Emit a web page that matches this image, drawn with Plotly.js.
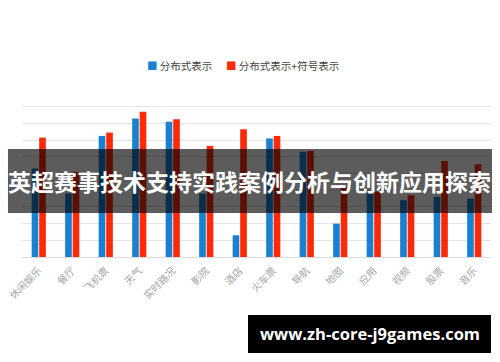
<!DOCTYPE html>
<html>
<head>
<meta charset="utf-8">
<script src="https://cdn.plot.ly/plotly-3.0.1.min.js"></script>
<style>html,body{margin:0;padding:0;background:#fff;}#chart{width:500px;height:362px;}</style>
</head>
<body>
<div id="chart"></div>
<script>
const categories = ["休闲娱乐","餐厅","飞机票","天气","实时路况","影院","酒店","火车票","导航","地图","应用","视频","股票","音乐"];
const distributed = [5.3, 3.8, 7.25, 8.3, 8.1, 3.8, 1.3, 7.1, 6.3, 2.0, 3.8, 3.4, 3.6, 3.5];
const distributedSymbolic = [7.15, 5.1, 7.45, 8.7, 8.25, 6.65, 7.65, 7.25, 6.35, 4.2, 3.9, 3.7, 5.75, 5.55];
const seriesNames = ["分布式表示", "分布式表示+符号表示"];
const seriesColors = ["#1b80cf", "#fb2a08"];
const bannerText = "英超赛事技术支持实践案例分析与创新应用探索";
const watermarkText = "www.zh-core-j9games.com";

const font = "'Noto Sans CJK SC', 'Noto Sans', sans-serif";
const traces = seriesNames.map((n, i) => ({
  type:"bar", name:n, x:categories, y:[distributed, distributedSymbolic][i], marker:{color:seriesColors[i]}
}));
const legendAnn = [
  {x:0.262, text:"<span style='color:" + seriesColors[0] + "'>■</span> " + seriesNames[0]},
  {x:0.431, text:"<span style='color:" + seriesColors[1] + "'>■</span> " + seriesNames[1]}
].map(a => ({xref:"paper", yref:"paper", x:a.x, y:1.146, xanchor:"left", yanchor:"middle",
  showarrow:false, text:a.text, font:{family:font, size:10.5, color:"#444"}}));

const layout = {
  width:500, height:362,
  margin:{l:22, r:9, t:90, b:105},
  paper_bgcolor:"#fff", plot_bgcolor:"#fff",
  font:{family:font, color:"#555"},
  barmode:"group", bargap:0.55, bargroupgap:0.12,
  showlegend:false,
  xaxis:{tickangle:-45, tickfont:{size:10, color:"#a5a5a5"}, ticklabelstandoff:5,
         showgrid:false, showline:false, ticks:""},
  yaxis:{range:[0,10], dtick:1, showticklabels:false, showgrid:true, gridcolor:"#e4e4e4", gridwidth:1,
         zeroline:true, zerolinecolor:"#dcdcdc", zerolinewidth:1, showline:false, ticks:""},
  shapes:[
    {type:"rect", xref:"paper", yref:"paper", x0:-0.0299, x1:1.0021, y0:0.2635, y1:0.6467,
     fillcolor:"rgba(0,0,0,0.64)", line:{width:0}, layer:"above"},
    {type:"rect", xref:"paper", yref:"paper", x0:0.4819, x1:1.0, y0:-0.5749, y1:-0.3473,
     fillcolor:"#000", line:{width:0}, layer:"above"}
  ],
  annotations:legendAnn.concat([
    {xref:"paper", yref:"paper", x:0.486, y:0.455, xanchor:"center", yanchor:"middle", showarrow:false,
     text:bannerText, font:{family:font, size:23, color:"#fff", weight:"bold"}},
    {xref:"paper", yref:"paper", x:0.741, y:-0.461, xanchor:"center", yanchor:"middle", showarrow:false,
     text:watermarkText, font:{family:"'Open Sans', 'DejaVu Sans', sans-serif", size:16.5, color:"#fff", weight:"bold"}}
  ])
};
Plotly.newPlot("chart", traces, layout, {displayModeBar:false, staticPlot:true});
</script>
</body>
</html>
